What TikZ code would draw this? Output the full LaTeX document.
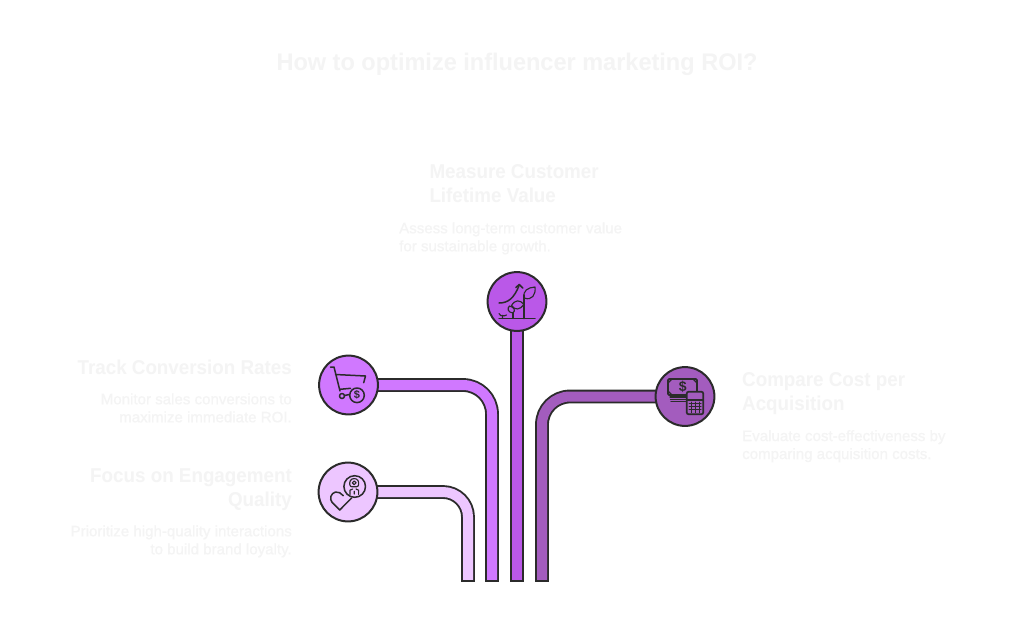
\documentclass[tikz,border=0pt]{standalone}
\usepackage{fontspec}
\setmainfont{Liberation Sans}
\newfontfamily\headfont[FakeStretch=0.94]{Liberation Sans}
\newfontfamily\titlefont[FakeStretch=0.98]{Liberation Sans}
\newfontfamily\bodyfont[FakeStretch=1.005,FakeBold=0.25]{Liberation Sans}
\definecolor{ink}{HTML}{2B2B2B}
\definecolor{ghost}{HTML}{F4F4F4}
\definecolor{cTrack}{HTML}{D078FF}
\definecolor{cFocus}{HTML}{EDC6FF}
\definecolor{cMeasure}{HTML}{BA58E8}
\definecolor{cCompare}{HTML}{A35CBE}
\tikzset{
  x=1pt,y=-1pt,
  badge/.style={circle,draw=ink,line width=2pt,minimum size=58.8pt,inner sep=0pt,fill=#1},
  tube/.style={draw=ink,line width=1.9pt,double=#1,double distance=10pt,line cap=butt,line join=round},
  tubeend/.style={draw=ink,line width=2pt,line cap=butt},
  icon/.style={draw=ink,line width=1.5pt,line cap=round,line join=round},
  fine/.style={icon,line width=1.15pt},
  headtext/.style={text=ghost,inner sep=0pt,font=\headfont\fontsize{20}{24}\selectfont\bfseries},
  bodytext/.style={text=ghost,inner sep=0pt,font=\bodyfont\fontsize{15}{18}\selectfont},
  titletext/.style={text=ghost,inner sep=0pt,font=\titlefont\fontsize{24}{28}\selectfont\bfseries}
}
\begin{document}
\begin{tikzpicture}
\useasboundingbox[fill=white] (0,0) rectangle (1034,625);
% free ends of the tubes
\coordinate (e1) at (468,581);
\coordinate (e2) at (492,581);
\coordinate (e3) at (517,581);
\coordinate (e4) at (542,581);
% badge positions
\coordinate (p1) at (348.5,385);
\coordinate (p2) at (348,492);
\coordinate (p3) at (517,301.5);
\coordinate (p4) at (685,396.5);
% tubes
\draw[tube=cFocus,rounded corners=25pt] (p2) -- (p2 -| e1) -- (e1);
\draw[tube=cTrack,rounded corners=29pt] (p1) -- (p1 -| e2) -- (e2);
\draw[tube=cMeasure] (p3) -- (e3);
\draw[tube=cCompare,rounded corners=28pt] (p4) -- (p4 -| e4) -- (e4);
\foreach \e in {e1,e2,e3,e4}{
  \draw[tubeend] ([xshift=-6.9pt]\e) -- ([xshift=6.9pt]\e);
}
% badges
\node[badge=cTrack] (b1) at (p1) {};
\node[badge=cFocus] (b2) at (p2) {};
\node[badge=cMeasure] (b3) at (p3) {};
\node[badge=cCompare] (b4) at (p4) {};
% cart icon
\begin{scope}[shift={(b1.center)}]
  \draw[icon] (-18,-18) -- (-14.5,-18) -- (-8.5,6) (-13,-10.5) -- (17,-9) -- (15.2,-2.3) (-8.5,4.3) -- (2,3.3);
  \draw[icon] (-6.5,11) circle (2.5);
  \draw[icon] (-4,10.5) -- (1,9.5);
  \draw[icon] (8.5,10.3) circle (7.3);
  \node[text=ink,inner sep=0pt,font=\fontsize{11}{11}\selectfont\bfseries] (d1) at (8.5,10.3) {\$};
\end{scope}
% heart and badge icon
\begin{scope}[shift={(b2.center)}]
  \draw[icon] (6.7,-5.5) circle (10.8);
  \draw[fine] (6.2,-9.2) circle (1.9);
  \draw[fine,rounded corners=2.2pt] (1.8,-5.2) -- (1.8,-11.8) -- (6.2,-14) -- (10.6,-11.8) -- (10.6,-5.2) -- cycle;
  \draw[fine] (2,2.5) -- (2,-1.8) -- (4.6,-3) (10.6,2.5) -- (10.6,-1.8) -- (8,-3) (6.3,2) -- (6.3,-0.8);
  \draw[icon] (3.8,5.8) -- (-8.3,18) -- (-15.8,10.5) .. controls (-19,7) and (-17,1) .. (-12.5,0) .. controls (-9.5,-0.5) and (-7,1.2) .. (-4.7,3.7);
\end{scope}
% growth icon
\begin{scope}[shift={(b3.center)}]
  \draw[icon] (-18,17) -- (18,17);
  \draw[icon] (7,17) -- (7,-6.5);
  \draw[fine] (7.2,-3.5) .. controls (5.5,-11) and (11,-14) .. (18,-14.5) .. controls (19,-7) and (15,-0.5) .. (7.2,-3.5);
  \draw[fine] (7,3) .. controls (3,-2) and (-2,-2) .. (-5.5,4) .. controls (-2,9) and (3,8.5) .. (7,3);
  \draw[fine] (-4,17) -- (-4,11.5);
  \draw[fine] (-4,11.5) .. controls (-9.5,11) and (-10,6.5) .. (-7.5,4.5) .. controls (-3,5.5) and (-1,9) .. (-4,11.5);
  \draw[fine] (-14.5,17) -- (-14.5,14) (-18,12) .. controls (-17,14.5) and (-15.5,14.5) .. (-14.5,14) .. controls (-13.5,14.5) and (-11.5,14.5) .. (-10.5,13.5);
  \draw[icon] (-18,1.5) .. controls (-9,1.5) and (-3,-3) .. (2.3,-16.5);
  \draw[icon] (-1.2,-14) -- (2.3,-17) -- (5.8,-13.5);
\end{scope}
% money and calculator icon
\begin{scope}[shift={(b4.center)}]
  \draw[icon,line width=1.7pt,rounded corners=1pt] (-17,-17.5) rectangle (12,-1.5);
  \draw[icon,line width=1.3pt] (-17,-13.5) -- (-13,-17.5) (-17,-5.5) -- (-13,-1.5) (12,-13.5) -- (8,-17.5);
  \node[text=ink,inner sep=0pt,font=\fontsize{14}{14}\selectfont\bfseries] (d4) at (-2.2,-9.5) {\$};
  \draw[icon,line width=1.2pt] (-15,0.5) -- (1,0.5) (-14.5,2.8) -- (1,2.8) (-14,5.2) -- (1,5.2);
  \draw[icon,line width=1.7pt,fill=cCompare,rounded corners=2pt] (1.7,-4.8) rectangle (18.3,17.8);
  \draw[icon,line width=1.3pt] (1.7,3.5) -- (18.3,3.5);
  \foreach \gx in {6,10,14}{\draw[icon,line width=1pt] (\gx,5.5) -- (\gx,16);}
  \foreach \gy in {7,10,13}{\draw[icon,line width=1pt] (4,\gy) -- (16,\gy);}
\end{scope}
% texts
\node[titletext,anchor=base] (title) at (517,70.7) {How to optimize influencer marketing ROI?};
\node[headtext,anchor=base west,align=left] (h3) at (429.3,202.2) {Measure Customer\\Lifetime Value};
\node[bodytext,anchor=base west,align=left] (t3) at (399,251.3) {Assess long-term customer value\\for sustainable growth.};
\node[headtext,anchor=base east,align=right] (h1) at (292,374) {Track Conversion Rates};
\node[bodytext,anchor=base east,align=right] (t1) at (292,422.3) {Monitor sales conversions to\\maximize immediate ROI.};
\node[headtext,anchor=base east,align=right] (h2) at (292,506.7) {Focus on Engagement\\Quality};
\node[bodytext,anchor=base east,align=right] (t2) at (292,554.3) {Prioritize high-quality interactions\\to build brand loyalty.};
\node[headtext,anchor=base west,align=left] (h4) at (742,410) {Compare Cost per\\Acquisition};
\node[bodytext,anchor=base west,align=left] (t4) at (742,459) {Evaluate cost-effectiveness by\\comparing acquisition costs.};
\end{tikzpicture}
\end{document}
